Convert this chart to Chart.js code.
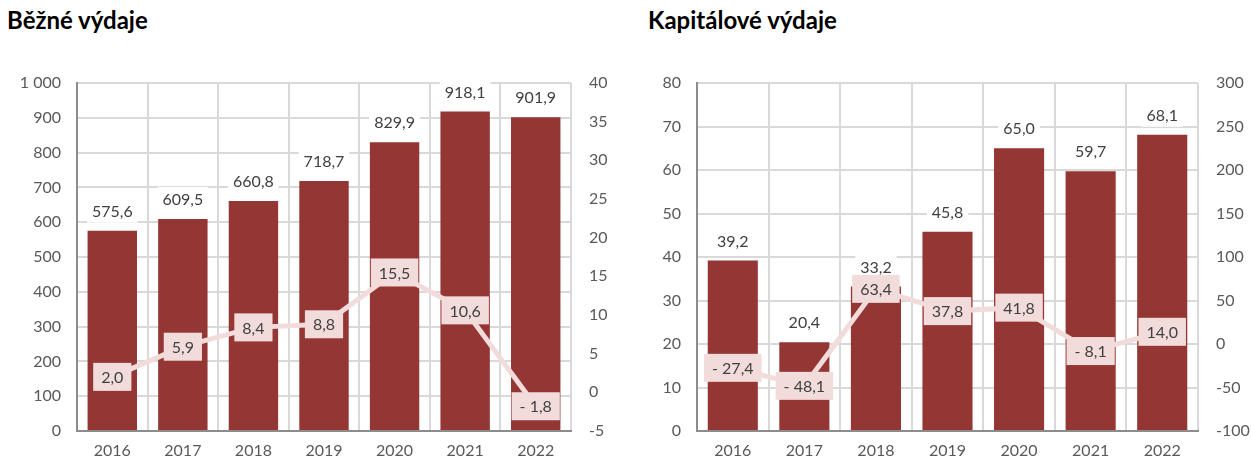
<!DOCTYPE html>
<html>
<head>
<meta charset="utf-8">
<script src="https://cdn.jsdelivr.net/npm/chart.js"></script>
<style>
  body { margin: 0; background: #fff; width: 1251px; height: 461px; overflow: hidden; position: relative; font-family: Lato, sans-serif; }
  .title { position: absolute; top: 5px; font-size: 24px; font-weight: bold; color: #000; }
  canvas { position: absolute; top: 0; }
</style>
</head>
<body>
<div class="title" style="left:7px;">Běžné výdaje</div>
<div class="title" style="left:648px;">Kapitálové výdaje</div>
<canvas id="current" width="625" height="461" style="left:0;"></canvas>
<canvas id="capital" width="626" height="461" style="left:625px;"></canvas>

<script>
// data
const years = ['2016', '2017', '2018', '2019', '2020', '2021', '2022'];
const currentSpending = [575.6, 609.5, 660.8, 718.7, 829.9, 918.1, 901.9];
const currentGrowth = [2.0, 5.9, 8.4, 8.8, 15.5, 10.6, -1.8];
const capitalSpending = [39.2, 20.4, 33.2, 45.8, 65.0, 59.7, 68.1];
const capitalGrowth = [-27.4, -48.1, 63.4, 37.8, 41.8, -8.1, 14.0];

const BAR = '#943634';
const PINK = '#f2dcdb';
const TEXT = '#404040';
const TICK = '#595959';
const FONT = 'Lato';

function fmtValue(v) {
  const s = Math.abs(v).toFixed(1).replace('.', ',');
  return v < 0 ? '- ' + s : s;
}
function fmtTick(v) {
  return String(v).replace(/\B(?=(\d{3})+(?!\d))/g, ' ');
}

// labels above bars and on the line points
const valueLabels = {
  id: 'valueLabels',
  afterDatasetsDraw(chart) {
    const ctx = chart.ctx;
    ctx.save();
    ctx.font = '16px ' + FONT;
    ctx.textAlign = 'center';
    ctx.textBaseline = 'middle';

    const barMeta = chart.getDatasetMeta(0);
    barMeta.data.forEach((bar, i) => {
      const txt = fmtValue(chart.data.datasets[0].data[i]);
      const w = ctx.measureText(txt).width + 10;
      const y = bar.y - 20;
      ctx.fillStyle = '#fff';
      ctx.fillRect(bar.x - w / 2, y - 12, w, 24);
      ctx.fillStyle = TEXT;
      ctx.fillText(txt, bar.x, y + 1);
    });

    const lineMeta = chart.getDatasetMeta(1);
    lineMeta.data.forEach((pt, i) => {
      const txt = fmtValue(chart.data.datasets[1].data[i]);
      const w = ctx.measureText(txt).width + 16;
      ctx.fillStyle = PINK;
      ctx.fillRect(pt.x - w / 2, pt.y - 14, w, 28);
      ctx.fillStyle = TEXT;
      ctx.fillText(txt, pt.x, pt.y + 1);
    });
    ctx.restore();
  }
};

function makeChart(id, bars, growth, yMax, yStep, y1Min, y1Max, y1Step, leftW, rightW) {
  return new Chart(document.getElementById(id), {
    type: 'bar',
    data: {
      labels: years,
      datasets: [
        {
          type: 'bar',
          data: bars,
          backgroundColor: BAR,
          categoryPercentage: 1,
          barPercentage: 0.7,
          yAxisID: 'y',
          order: 2
        },
        {
          type: 'line',
          data: growth,
          borderColor: PINK,
          borderWidth: 5,
          pointRadius: 0,
          tension: 0,
          yAxisID: 'y1',
          order: 1
        }
      ]
    },
    options: {
      responsive: false,
      animation: false,
      layout: { padding: { top: 83, left: 0, right: 0, bottom: 0 } },
      plugins: { legend: { display: false }, tooltip: { enabled: false } },
      scales: {
        x: {
          grid: { color: '#d9d9d9', lineWidth: 2, drawTicks: false, offset: true },
          border: { color: '#8c8c8c', width: 2 },
          ticks: { color: TICK, font: { family: FONT, size: 16 }, padding: 10 },
          afterFit: (s) => { s.height = 30; }
        },
        y: {
          position: 'left',
          min: 0, max: yMax,
          grid: { color: '#d9d9d9', lineWidth: 2, drawTicks: false },
          border: { color: '#8c8c8c', width: 2 },
          ticks: { stepSize: yStep, color: TICK, font: { family: FONT, size: 16 }, padding: 16, callback: fmtTick },
          afterFit: (s) => { s.width = leftW; }
        },
        y1: {
          position: 'right',
          min: y1Min, max: y1Max,
          grid: { display: false, drawTicks: false },
          border: { display: false },
          ticks: { stepSize: y1Step, color: TICK, font: { family: FONT, size: 16 }, padding: 18 },
          afterFit: (s) => { s.width = rightW; }
        }
      }
    },
    plugins: [valueLabels]
  });
}

makeChart('current', currentSpending, currentGrowth, 1000, 100, -5, 40, 5, 77, 54);
makeChart('capital', capitalSpending, capitalGrowth, 80, 10, -100, 300, 50, 72, 53);
</script>
</body>
</html>
